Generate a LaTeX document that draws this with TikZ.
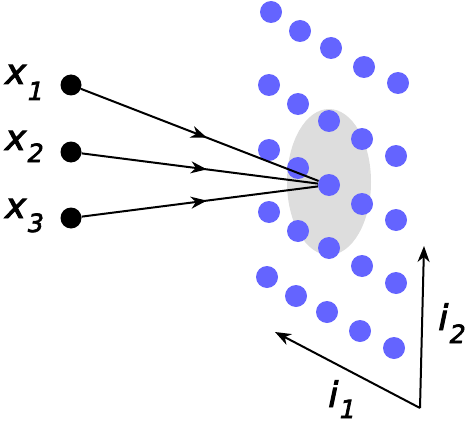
\documentclass[tikz,border=0pt]{standalone}
\usepackage{fontspec}
\setmainfont{DejaVu Sans}
\newfontfamily\labfont[FakeBold=2.8,FakeSlant=0.21]{DejaVu Sans}
\usetikzlibrary{arrows.meta,decorations.markings}
\definecolor{dotblue}{RGB}{100,100,255}
\definecolor{blobgray}{RGB}{221,221,221}
\begin{document}
\begin{tikzpicture}[x=1pt,y=-1pt,
  bdot/.style={circle,fill=dotblue,inner sep=0pt,minimum size=22pt},
  kdot/.style={circle,fill=black,inner sep=0pt,minimum size=21pt},
  link/.style={line width=2pt,postaction=decorate,
    decoration={markings,mark=at position 0.53 with {\arrow{Stealth[length=16pt,width=12pt,inset=5pt]}}}},
  vec/.style={line width=2pt,-{Stealth[length=16pt,width=12pt,inset=5pt]}},
  lab/.style={anchor=base west,inner sep=0pt,font=\fontsize{35}{35}\labfont}]
\useasboundingbox (0,0) rectangle (473,425);
% receptive field
\fill[blobgray] (329,182) ellipse [x radius=42, y radius=73];
% grid of units
\foreach \n/\x/\y in {
  a1/271/12, a2/300/31, a3/331/48, a4/364/67, a5/398/83,
  b1/269/85, b2/298/104, b3/329/121, b4/362/139, b5/396/156,
  c1/269/150, c2/298/168, c4/362/204, c5/396/220,
  d1/269/212, d2/298/231, d3/329/248, d4/362/266, d5/396/283,
  e1/267/277, e2/296/296, e3/327/312, e4/360/331, e5/394/348}
  \node[bdot] (\n) at (\x,\y) {};
\node[bdot] (c3) at (329,185) {};
% inputs
\node[kdot] (x1) at (71,85) {};
\node[kdot] (x2) at (71,152) {};
\node[kdot] (x3) at (71,218) {};
\node[lab] (lx1) at (3,84) {x\kern2pt\raisebox{-16pt}{\fontsize{25}{25}\selectfont 1}};
\node[lab] (lx2) at (3,150) {x\kern2pt\raisebox{-12pt}{\fontsize{25}{25}\selectfont 2}};
\node[lab] (lx3) at (3,218) {x\kern2pt\raisebox{-14pt}{\fontsize{25}{25}\selectfont 3}};
\draw[link] (x1) -- (c3);
\draw[link] (x2) -- (c3);
\draw[link] (x3) -- (c3);
% axes
\coordinate (o) at (420,408);
\coordinate (i1e) at (275,332);
\coordinate (i2e) at (424,246);
\draw[vec] (o) -- (i1e);
\draw[vec] (o) -- (i2e);
\node[lab] (li1) at (326,407) {i\kern2pt\raisebox{-11pt}{\fontsize{25}{25}\selectfont 1}};
\node[lab] (li2) at (436,330) {i\kern2pt\raisebox{-13pt}{\fontsize{25}{25}\selectfont 2}};
\end{tikzpicture}
\end{document}
